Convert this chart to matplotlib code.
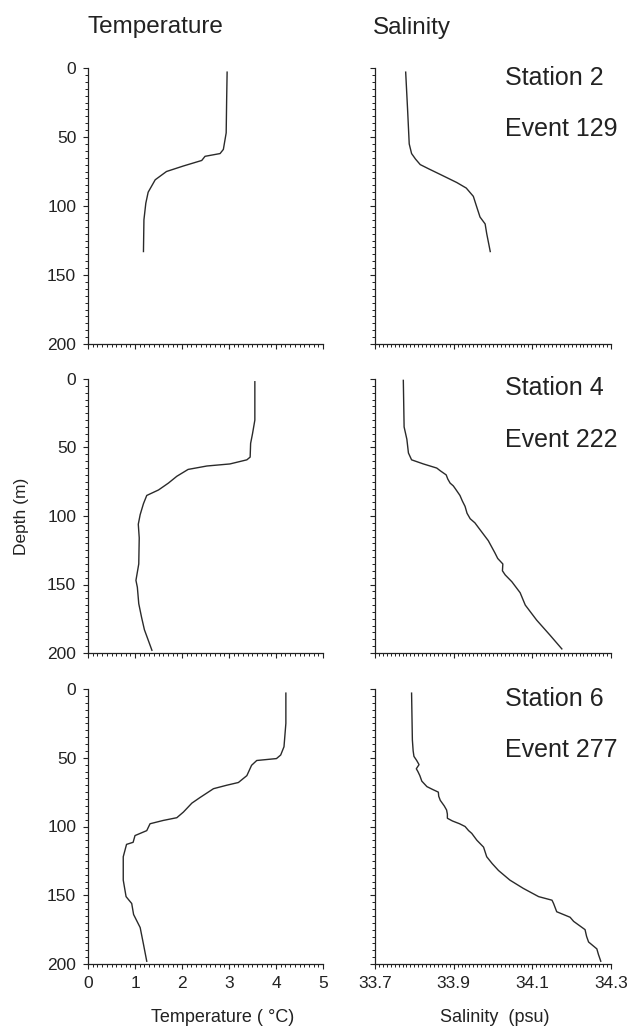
import matplotlib
matplotlib.use("Agg")
import matplotlib.pyplot as plt
from matplotlib.ticker import MultipleLocator, NullFormatter

plt.rcParams['font.family'] = ['Liberation Sans', 'DejaVu Sans']

# ---------------- data ----------------
stations = ["Station 2", "Station 4", "Station 6"]
events = ["Event 129", "Event 222", "Event 277"]

# Station 2 / Event 129
st2_T_depth = [3, 23, 47, 59, 62, 64, 67, 71, 75, 81, 90, 98, 110, 133]
st2_T = [2.96, 2.95, 2.94, 2.88, 2.81, 2.49, 2.42, 2.03, 1.67, 1.43, 1.28, 1.23, 1.19, 1.18]
st2_S_depth = [3, 31, 55, 62, 66, 70, 73, 77, 83, 87, 93, 101, 108, 113, 120, 133]
st2_S = [33.778, 33.783, 33.787, 33.793, 33.803, 33.815, 33.836, 33.865, 33.908, 33.932,
         33.950, 33.959, 33.967, 33.980, 33.984, 33.993]

# Station 4 / Event 222
st4_T_depth = [2, 30, 40, 47, 57, 59, 62, 63.5, 66, 71, 76, 81, 85, 91, 99, 106, 116,
               135, 147, 152, 164, 174, 183, 198]
st4_T = [3.55, 3.55, 3.50, 3.46, 3.45, 3.38, 3.02, 2.53, 2.13, 1.89, 1.71, 1.50, 1.25,
         1.18, 1.11, 1.07, 1.09, 1.08, 1.02, 1.05, 1.08, 1.14, 1.20, 1.36]
st4_S_depth = [1, 35, 44, 54, 59, 62, 65, 67, 70, 73, 76, 78, 80, 85, 89, 93, 98, 102,
               105, 110, 118, 127, 131, 135, 140, 143, 148, 156, 165, 176, 187, 197]
st4_S = [33.772, 33.774, 33.781, 33.785, 33.793, 33.823, 33.857, 33.866, 33.881, 33.885,
         33.891, 33.899, 33.904, 33.916, 33.922, 33.929, 33.934, 33.942, 33.954, 33.967,
         33.988, 34.005, 34.012, 34.025, 34.024, 34.031, 34.048, 34.069, 34.082, 34.111,
         34.145, 34.175]

# Station 6 / Event 277
st6_T_depth = [3, 25, 42, 48, 50.6, 52, 55.5, 63, 68, 70, 72.5, 79, 83, 89.5, 93.6, 95.6,
               98, 103, 106.6, 111.5, 113, 122, 139, 151, 156, 164, 173.5, 185.6, 198]
st6_T = [4.21, 4.21, 4.17, 4.10, 4.01, 3.59, 3.48, 3.38, 3.20, 2.95, 2.67, 2.38, 2.21,
         2.03, 1.89, 1.60, 1.32, 1.25, 1.00, 0.96, 0.82, 0.75, 0.75, 0.81, 0.93, 0.97,
         1.11, 1.18, 1.25]
st6_S_depth = [3, 37, 45, 49, 52, 55, 58, 60, 63, 67, 71, 73, 75, 78, 81, 85, 88, 91, 94,
               96, 98, 100, 103, 105, 110, 115, 122, 127, 132, 139, 145, 151, 153.6, 156,
               162, 166, 169, 175, 180, 184, 189, 193, 198]
st6_S = [33.793, 33.795, 33.797, 33.799, 33.806, 33.812, 33.805, 33.809, 33.814, 33.819,
         33.832, 33.846, 33.861, 33.862, 33.866, 33.876, 33.882, 33.884, 33.884, 33.897,
         33.915, 33.929, 33.938, 33.946, 33.959, 33.976, 33.984, 33.998, 34.014, 34.043,
         34.077, 34.116, 34.150, 34.154, 34.162, 34.196, 34.205, 34.234, 34.238, 34.243,
         34.264, 34.268, 34.274]

temp_series = [(st2_T, st2_T_depth), (st4_T, st4_T_depth), (st6_T, st6_T_depth)]
sal_series = [(st2_S, st2_S_depth), (st4_S, st4_S_depth), (st6_S, st6_S_depth)]

temp_ticks = [0, 1, 2, 3, 4, 5]
sal_ticks = [33.7, 33.9, 34.1, 34.3]
depth_ticks = [0, 50, 100, 150, 200]

# ---------------- figure ----------------
W, H = 632, 1027
fig = plt.figure(figsize=(W / 100, H / 100), dpi=100)

left_x = (88, 323)
right_x = (375, 611)
rows_y = [(68, 344), (379, 653), (689, 964)]

ink = "#222222"
line_col = "#2a2a2a"


def add_ax(xr, yr):
    return fig.add_axes([xr[0] / W, 1 - yr[1] / H, (xr[1] - xr[0]) / W, (yr[1] - yr[0]) / H])


def style(ax, show_ylabels, show_xlabels):
    for s in ("top", "right"):
        ax.spines[s].set_visible(False)
    for s in ("left", "bottom"):
        ax.spines[s].set_color(ink)
        ax.spines[s].set_linewidth(0.9)
    ax.set_ylim(200, 0)
    ax.set_yticks(depth_ticks)
    ax.yaxis.set_minor_locator(MultipleLocator(5))
    ax.tick_params(axis="both", which="major", direction="out", length=3.5, width=0.8,
                   color=ink, labelsize=12.5, labelcolor=ink, pad=5)
    ax.tick_params(axis="both", which="minor", direction="out", length=2.3, width=0.7,
                   color=ink)
    if not show_ylabels:
        ax.yaxis.set_major_formatter(NullFormatter())
    if not show_xlabels:
        ax.xaxis.set_major_formatter(NullFormatter())
    ax.patch.set_alpha(0)


for i in range(3):
    last = (i == 2)
    axT = add_ax(left_x, rows_y[i])
    T, d = temp_series[i]
    axT.plot(T, d, color=line_col, lw=1.0)
    axT.set_xlim(0, 5)
    axT.set_xticks(temp_ticks)
    axT.xaxis.set_minor_locator(MultipleLocator(0.1))
    style(axT, True, last)
    if last:
        axT.set_xticklabels([str(t) for t in temp_ticks])

    axS = add_ax(right_x, rows_y[i])
    S, d = sal_series[i]
    axS.plot(S, d, color=line_col, lw=1.0)
    axS.set_xlim(33.7, 34.3)
    axS.set_xticks(sal_ticks)
    axS.xaxis.set_minor_locator(MultipleLocator(0.01))
    style(axS, False, last)
    if last:
        axS.set_xticklabels([f"{t:.1f}" for t in sal_ticks])

    axS.text(0.551, 0.94, stations[i], transform=axS.transAxes, fontsize=18,
             color=ink, ha="left", va="baseline")
    axS.text(0.551, 0.753, events[i], transform=axS.transAxes, fontsize=18,
             color=ink, ha="left", va="baseline")

# column titles
fig.text(88 / W, 1 - 33 / H, "Temperature", fontsize=17.5, color=ink, ha="left", va="baseline")
fig.text(373 / W, 1 - 34 / H, "Salinity", fontsize=17.5, color=ink, ha="left", va="baseline")

# axis labels
fig.text(22 / W, 1 - 516 / H, "Depth (m)", fontsize=12.5, color=ink, rotation=90,
         ha="center", va="center")
fig.text(223 / W, 1 - 1018 / H, "Temperature ( °C)", fontsize=13, color=ink,
         ha="center", va="center")
fig.text(495 / W, 1 - 1018 / H, "Salinity  (psu)", fontsize=13, color=ink,
         ha="center", va="center")

fig.savefig("out.png", dpi=100, facecolor="white")
